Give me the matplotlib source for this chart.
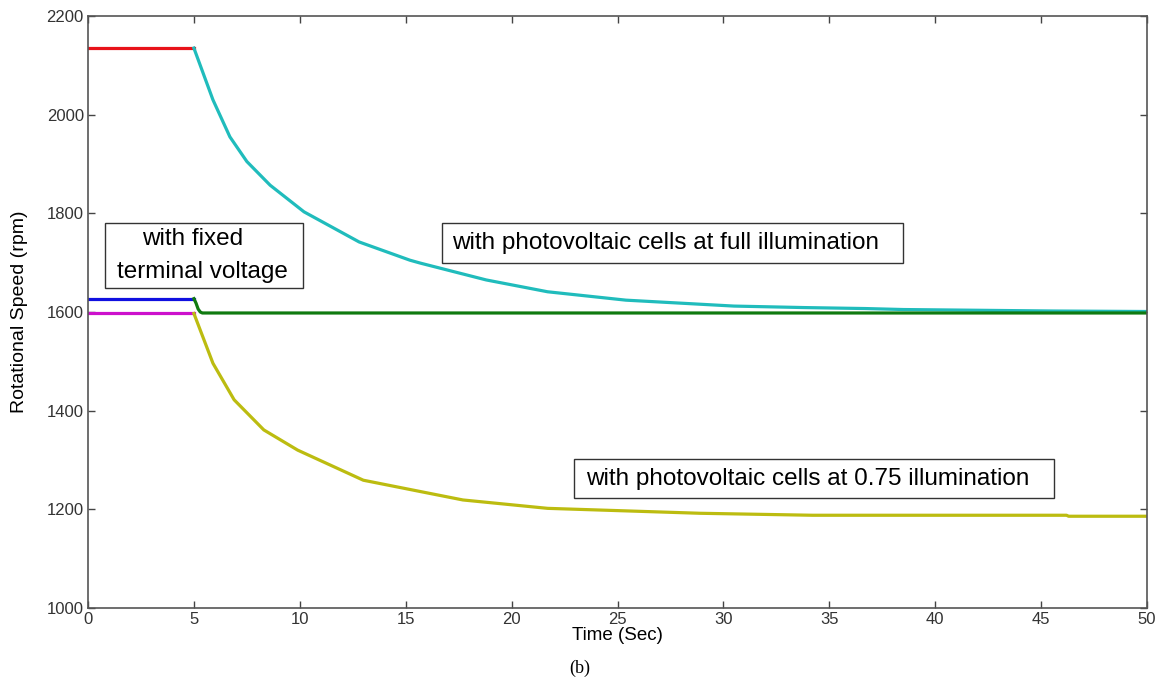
import matplotlib
matplotlib.use("Agg")
import matplotlib.pyplot as plt
from matplotlib.patches import Rectangle

# Data
t_pre = [0, 5]
red_pre = [2135, 2135]        # full illumination, before step
blue_pre = [1627, 1627]       # fixed terminal voltage, before step
mag_pre = [1597, 1597]        # 0.75 illumination, before step

t_green = [5, 5.1, 5.2, 5.3, 5.4, 50]
green = [1627, 1618, 1606, 1600, 1598, 1598]

t_cyan = [5, 5.9, 6.7, 7.5, 8.6, 10.2, 12.8, 15.2, 15.7, 18.8, 21.7, 25.4, 30.5, 33.8, 36.7, 38.5, 45.6, 50]
cyan = [2135, 2030, 1955, 1905, 1857, 1803, 1742, 1705, 1699, 1665, 1641, 1624, 1612, 1609, 1607, 1605, 1602, 1601]

t_yel = [5, 5.9, 6.9, 8.3, 9.9, 13.0, 15.7, 17.7, 21.7, 28.9, 34.2, 46.2, 46.3, 50]
yel = [1597, 1496, 1422, 1361, 1320, 1259, 1236, 1219, 1202, 1192, 1188, 1188, 1186, 1186]

xticks = [0, 5, 10, 15, 20, 25, 30, 35, 40, 45, 50]
yticks = [1000, 1200, 1400, 1600, 1800, 2000, 2200]

fig = plt.figure(figsize=(11.6, 6.91), dpi=100)
ax = fig.add_axes([88/1160, 1-608/691, (1147-88)/1160, (608-16)/691])

lw = 2.3
ax.plot(t_pre, red_pre, color='#e8121a', lw=lw)
ax.plot(t_pre, blue_pre, color='#1010e0', lw=lw)
ax.plot(t_pre, mag_pre, color='#cc10cc', lw=lw)
ax.plot(t_cyan, cyan, color='#20bcbc', lw=lw)
ax.plot(t_green, green, color='#107a10', lw=lw)
ax.plot(t_yel, yel, color='#bcbc10', lw=lw)

ax.set_xlim(0, 50)
ax.set_ylim(1000, 2200)
ax.set_xticks(xticks)
ax.set_yticks(yticks)
ax.tick_params(direction='in', top=True, right=True, length=5, width=1,
               color='#444444', labelsize=12, labelcolor='#333333', pad=3)
for lab in ax.get_xticklabels() + ax.get_yticklabels():
    lab.set_fontfamily('Liberation Sans')
for s in ax.spines.values():
    s.set_color('#555555')
    s.set_linewidth(1.2)

ax.set_xlabel('Time (Sec)', fontsize=13.5, family='Liberation Sans', labelpad=0)
ax.set_ylabel('Rotational Speed (rpm)', fontsize=14, family='Liberation Sans')
ax.yaxis.set_label_coords(-0.057, 0.5)

# annotation boxes
boxes = [
    (0.80, 1649, 10.15 - 0.80, 1780 - 1649),
    (16.7, 1700, 38.5 - 16.7, 1780 - 1700),
    (22.95, 1222, 45.6 - 22.95, 1303 - 1222),
]
for (x0, y0, w, h) in boxes:
    ax.add_patch(Rectangle((x0, y0), w, h, fill=False, edgecolor='#333333', lw=1.0, zorder=5))

fs = 17.5
ax.text(4.95, 1748, 'with fixed', fontsize=fs, family='Liberation Sans', ha='center', va='center')
ax.text(5.4, 1681, 'terminal voltage', fontsize=fs, family='Liberation Sans', ha='center', va='center')
ax.text(17.2, 1740, 'with photovoltaic cells at full illumination', fontsize=fs,
        family='Liberation Sans', ha='left', va='center')
ax.text(23.5, 1262, 'with photovoltaic cells at 0.75 illumination', fontsize=fs,
        family='Liberation Sans', ha='left', va='center')

fig.text(0.5, 1 - 668/691, '(b)', fontsize=13, family='Liberation Serif', ha='center', va='center')

fig.savefig('out.png', dpi=100)
